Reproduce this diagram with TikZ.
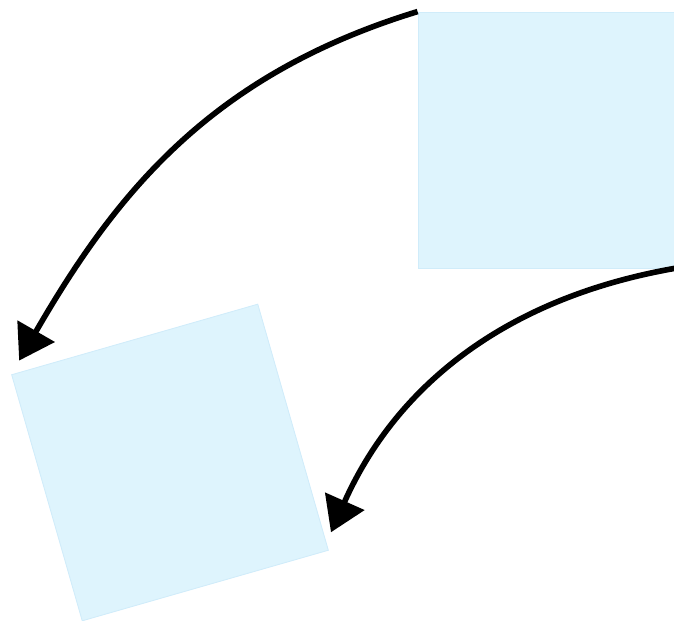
\documentclass[tikz,border=0pt]{standalone}
\usepackage{xcolor}
\usepackage{tikz}
\usetikzlibrary{arrows.meta,calc}
\definecolor{tileblue}{RGB}{222,244,253}
\definecolor{tileedge}{RGB}{208,236,250}

\begin{document}
\begin{tikzpicture}[-,auto,
                    square node/.style={rectangle,draw=tileedge,fill=tileblue,line width=0.6pt,minimum size=6.4cm,inner sep=0pt},
                    turn arrow/.style={-{Triangle[length=8.5mm,width=10.5mm]},line width=4pt,black}]

\useasboundingbox (0,0) rectangle (16.85,15.525);

%DRAWING the two squares

  \node[square node] (Orig) at (13.65,12.025) {};
  \node[square node,rotate=16] (Turned) at (4.25,3.9625) {};

%Inserting the turning arrows

  \draw[turn arrow,shorten >=0.4cm] (Orig.north west) to[out=197,in=60] (Turned.north west);
  \draw[turn arrow,shorten >=0.5cm] (Orig.south east) to[out=190,in=66] ($(Turned.south east)+(-0.15,0)$);

\end{tikzpicture}
\end{document}
